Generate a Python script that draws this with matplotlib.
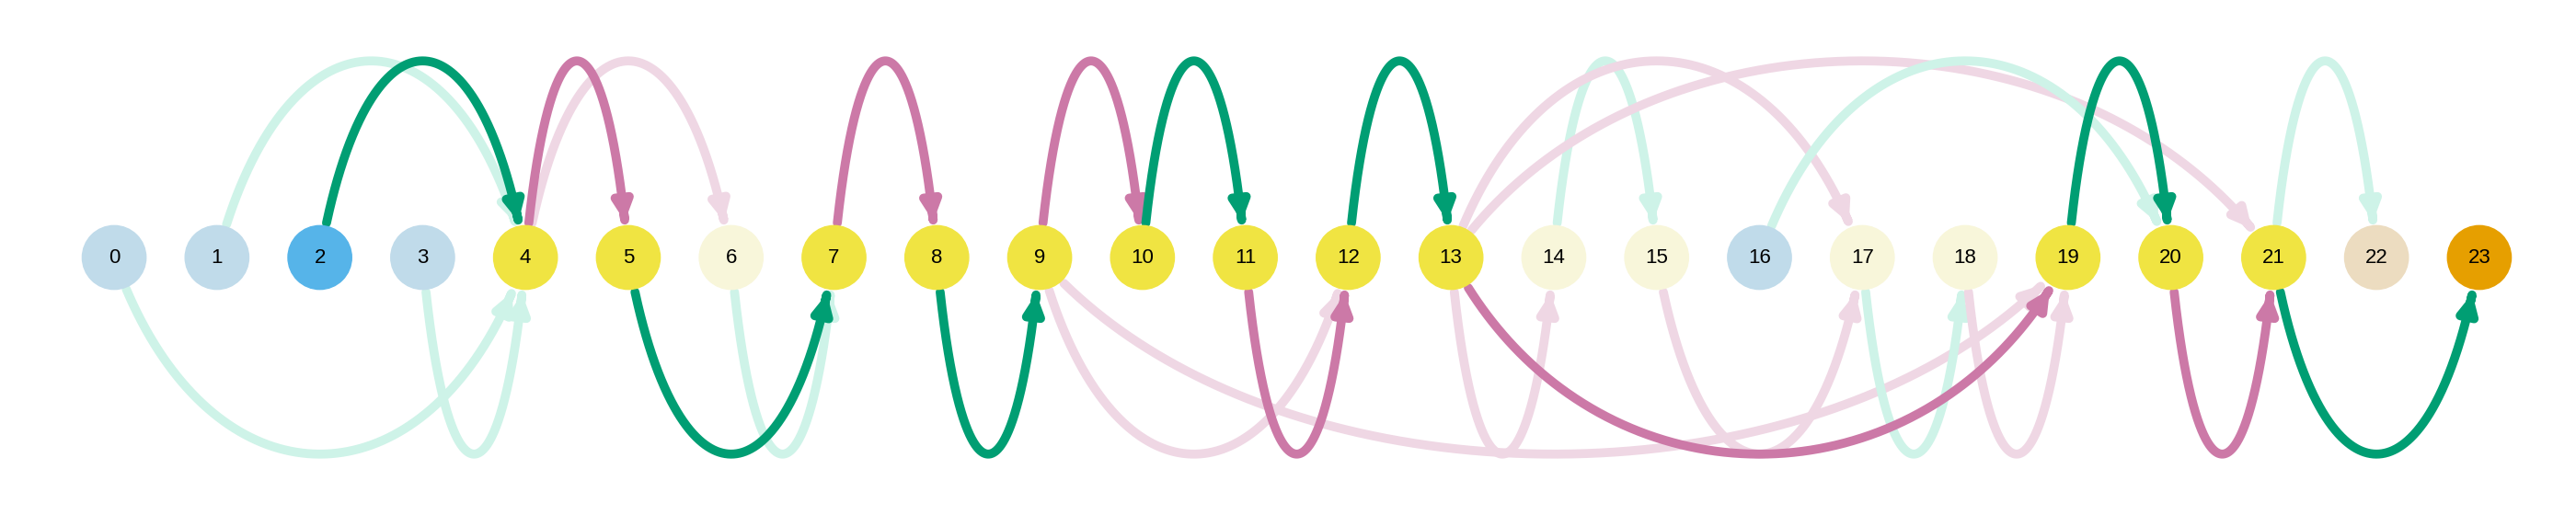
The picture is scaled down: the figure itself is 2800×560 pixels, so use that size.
import numpy as np
import matplotlib
matplotlib.use("Agg")
import matplotlib.pyplot as plt
from matplotlib.path import Path
from matplotlib.patches import FancyArrowPatch, Circle

nodes = list(range(24))
node_colors = ["#c0dbea", "#c0dbea", "#56B4E9", "#c0dbea", "#F0E442", "#F0E442",
               "#f8f6da", "#F0E442", "#F0E442", "#F0E442", "#F0E442", "#F0E442",
               "#F0E442", "#F0E442", "#f8f6da", "#f8f6da", "#c0dbea", "#f8f6da",
               "#f8f6da", "#F0E442", "#F0E442", "#F0E442", "#ecdcc0", "#E69F00"]

# (source, target, side, colour) side 1 = above, -1 = below
edges = [
    (1, 4, 1, "#cef3e8"), (2, 4, 1, "#009E73"), (4, 6, 1, "#efd7e4"), (4, 5, 1, "#CC79A7"),
    (7, 8, 1, "#CC79A7"), (9, 10, 1, "#CC79A7"), (10, 11, 1, "#009E73"),
    (12, 13, 1, "#009E73"), (14, 15, 1, "#cef3e8"), (13, 17, 1, "#efd7e4"),
    (13, 21, 1, "#efd7e4"), (16, 20, 1, "#cef3e8"), (19, 20, 1, "#009E73"),
    (21, 22, 1, "#cef3e8"),
    (0, 4, -1, "#cef3e8"), (3, 4, -1, "#cef3e8"), (6, 7, -1, "#cef3e8"),
    (5, 7, -1, "#009E73"), (8, 9, -1, "#009E73"), (9, 12, -1, "#efd7e4"),
    (9, 19, -1, "#efd7e4"), (11, 12, -1, "#CC79A7"), (13, 14, -1, "#efd7e4"),
    (15, 17, -1, "#efd7e4"), (17, 18, -1, "#cef3e8"), (18, 19, -1, "#efd7e4"),
    (13, 19, -1, "#CC79A7"), (20, 21, -1, "#CC79A7"), (21, 23, -1, "#009E73"),
]

fig = plt.figure(figsize=(28, 5.6), dpi=100)
ax = fig.add_axes([0, 0, 1, 1])
ax.set_xlim(-1.11, 23.94)
ax.set_ylim(-2.505, 2.505)
ax.axis("off")

R = 0.31
H = 2.55
t = np.linspace(0, 1, 500)


def draw_edge(a, b, side, color):
    d = 0.22 * (b - a)
    p0 = np.array([a, 0.0]); p1 = np.array([a + d, side * H])
    p2 = np.array([b - d, side * H]); p3 = np.array([b, 0.0])
    pts = ((1 - t) ** 3)[:, None] * p0 + (3 * (1 - t) ** 2 * t)[:, None] * p1 \
        + (3 * (1 - t) * t ** 2)[:, None] * p2 + (t ** 3)[:, None] * p3
    keep = (np.hypot(pts[:, 0] - a, pts[:, 1]) > R + 0.02) & \
           (np.hypot(pts[:, 0] - b, pts[:, 1]) > R + 0.04)
    pts = pts[keep]
    zo = 2 if color in ("#cef3e8", "#efd7e4") else 3
    arr = FancyArrowPatch(path=Path(pts), arrowstyle="-|>", mutation_scale=28,
                          color=color, lw=7, zorder=zo, joinstyle="round",
                          capstyle="round")
    ax.add_patch(arr)


for a, b, side, c in edges:
    draw_edge(a, b, side, c)

for n, c in zip(nodes, node_colors):
    ax.add_patch(Circle((n, 0), R, color=c, zorder=5))
    ax.text(n, 0, str(n), ha="center", va="center", fontsize=16,
            family="Liberation Sans", zorder=6)

fig.savefig("out.png")
